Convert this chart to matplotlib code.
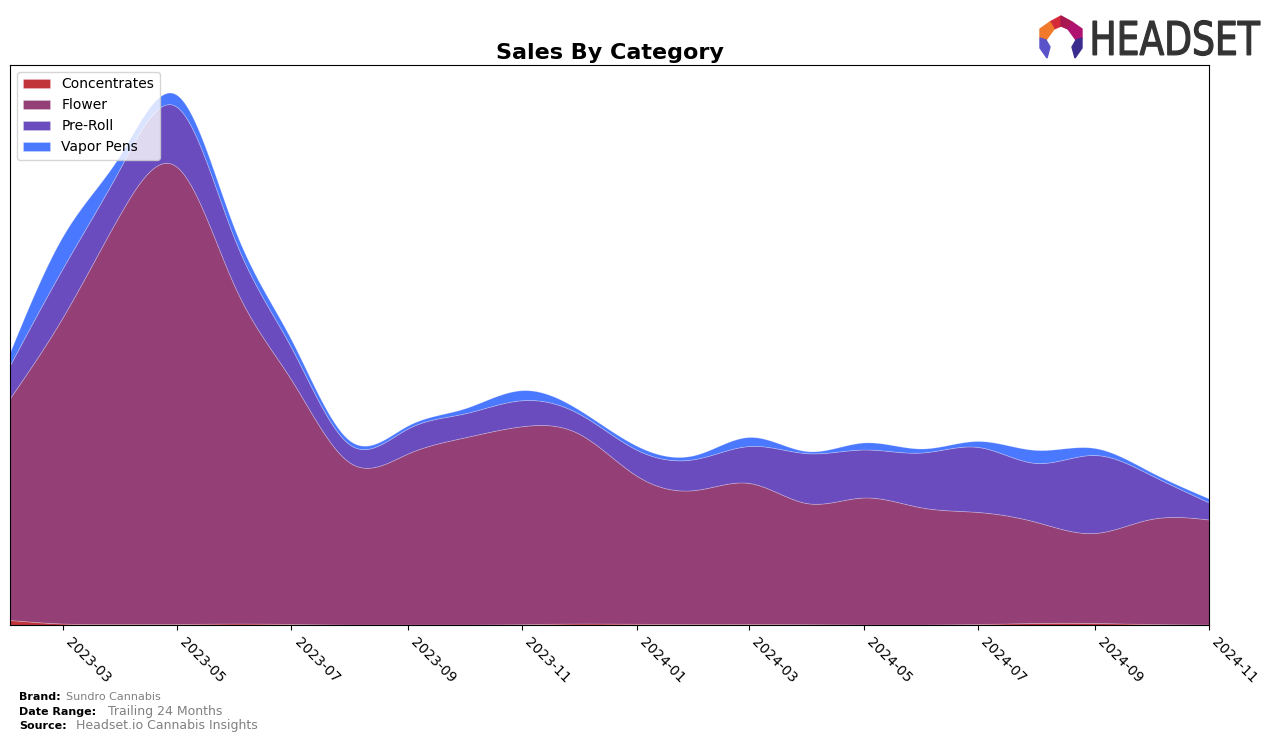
import numpy as np
import pandas as pd
import matplotlib
matplotlib.use("Agg")
import matplotlib.pyplot as plt
import matplotlib.dates as mdates
from matplotlib.patches import Polygon, PathPatch
from matplotlib.textpath import TextPath
from matplotlib.font_manager import FontProperties
from matplotlib.transforms import Affine2D

months = pd.date_range("2023-02-01", "2024-11-01", freq="MS")

# monthly sales (arbitrary units)
concentrates = [5, 1.5, 1, 1, 1.5, 1, 0.5, 0.5, 0.5, 0.8, 1.5, 1.2,
                1, 1, 0.8, 0.5, 0.5, 1, 2, 2, 1, 0.5]
flower = [222, 306, 411, 457, 336, 244, 162, 171, 187, 198, 190, 148,
          134, 141, 121, 127, 117, 112, 101, 90, 105, 105]
pre_roll = [33, 49, 46, 60, 47, 32, 18, 25, 24, 26, 20, 26,
            31, 37, 50, 48, 55, 65, 59, 78, 44, 17]
vapor_pens = [13, 32, 13, 12, 10, 8, 4, 3, 5, 10, 4, 4,
              4, 9, 2, 7, 4, 6, 13, 7, 3, 4]

labels = ["Concentrates", "Flower", "Pre-Roll", "Vapor Pens"]
colors = ["#c0343a", "#944077", "#6a4cbe", "#4a78ff"]


def natural_spline(x, y, xs):
    # plain natural cubic spline, just for drawing smooth curves
    x = np.asarray(x, float)
    y = np.asarray(y, float)
    n = len(x)
    h = np.diff(x)
    A = np.zeros((n, n))
    b = np.zeros(n)
    A[0, 0] = 1
    A[-1, -1] = 1
    for i in range(1, n - 1):
        A[i, i - 1] = h[i - 1]
        A[i, i] = 2 * (h[i - 1] + h[i])
        A[i, i + 1] = h[i]
        b[i] = 3 * ((y[i + 1] - y[i]) / h[i] - (y[i] - y[i - 1]) / h[i - 1])
    c = np.linalg.solve(A, b)
    idx = np.clip(np.searchsorted(x, xs) - 1, 0, n - 2)
    dx = xs - x[idx]
    bb = (y[idx + 1] - y[idx]) / h[idx] - h[idx] * (2 * c[idx] + c[idx + 1]) / 3
    dd = (c[idx + 1] - c[idx]) / (3 * h[idx])
    return y[idx] + bb * dx + c[idx] * dx ** 2 + dd * dx ** 3


xnum = mdates.date2num(months)
xs = np.linspace(xnum[0], xnum[-1], 600)
series = [concentrates, flower, pre_roll, vapor_pens]
smooth = [np.clip(natural_spline(xnum, s, xs), 0, None) for s in series]

fig = plt.figure(figsize=(12.76, 7.42), dpi=100)
ax = fig.add_axes([10 / 1276, 117 / 742, 1199 / 1276, 560 / 742])

ax.stackplot(xs, *smooth, labels=labels, colors=colors,
             edgecolor=(1, 1, 1, 0.25), linewidth=0.6)

ax.set_xlim(xnum[0], xnum[-1])
ax.set_ylim(0, 560)
ax.set_yticks([])
ax.xaxis.set_major_locator(mdates.MonthLocator(bymonth=[1, 3, 5, 7, 9, 11]))
ax.xaxis.set_major_formatter(mdates.DateFormatter("%Y-%m"))
plt.setp(ax.get_xticklabels(), rotation=-45, ha="left", fontsize=10)

ax.set_title("Sales By Category", fontsize=16, fontweight="bold", pad=4)
ax.legend(loc="upper left", fontsize=10, framealpha=0.8)

# footer
fig.text(19 / 1276, 1 - 697 / 742, "Brand:", fontsize=8, fontweight="bold", va="center")
fig.text(66 / 1276, 1 - 697 / 742, "Sundro Cannabis", fontsize=8, color="gray", va="center")
fig.text(19 / 1276, 1 - 712 / 742, "Date Range:", fontsize=8, fontweight="bold", va="center")
fig.text(108 / 1276, 1 - 712 / 742, "Trailing 24 Months", fontsize=9, color="gray", va="center")
fig.text(19 / 1276, 1 - 726 / 742, "Source:", fontsize=8, fontweight="bold", va="center")
fig.text(76 / 1276, 1 - 726 / 742, "Headset.io Cannabis Insights", fontsize=9, color="gray", va="center")

# logo, laid out in pixel units (y up)
lax = fig.add_axes([1030 / 1276, 1 - 66 / 742, 240 / 1276, 56 / 742])
lax.set_xlim(1030, 1270)
lax.set_ylim(676, 732)
lax.axis("off")

tp = TextPath((0, 0), "HEADSET", size=40, prop=FontProperties(family="DejaVu Sans"))
ext = tp.get_extents()
sx = 167 / ext.width
sy = 35 / ext.height
tr = Affine2D().translate(-ext.x0, -ext.y0).scale(sx, sy).translate(1093, 742 - 55.5)
lax.add_patch(PathPatch(tr.transform_path(tp), facecolor="#333333",
                        edgecolor="#333333", lw=0.9))

pieces = [
    ([(14, 40), (25, 46), (25, 36), (18, 33)], "#d42a3a"),
    ([(25, 46), (36, 40), (32, 33), (25, 36)], "#a8174f"),
    ([(36, 40), (46, 33), (46, 24), (40, 22), (32, 33)], "#b0136f"),
    ([(14, 40), (4, 33), (4, 24), (10, 22), (18, 33)], "#f07a2a"),
    ([(4, 24), (10, 22), (14, 15), (11, 4), (4, 14)], "#5a52c8"),
    ([(46, 24), (40, 22), (36, 15), (39, 4), (46, 14)], "#3a2c8c"),
]
for pts, c in pieces:
    pts = [(1036 + px, 742 - 62 + py) for px, py in pts]
    lax.add_patch(Polygon(pts, closed=True, color=c))

fig.savefig("out.png", dpi=100)
